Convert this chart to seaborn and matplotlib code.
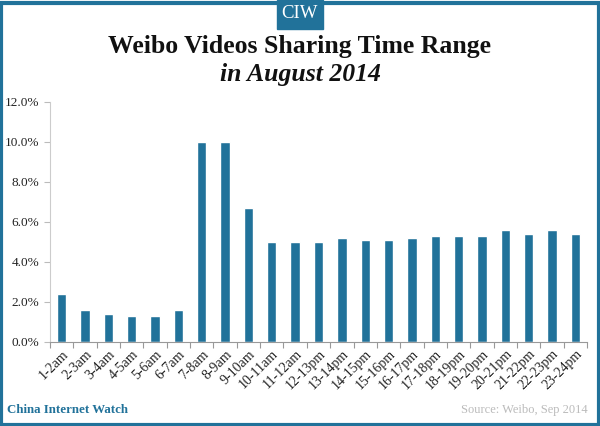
import matplotlib
matplotlib.use("Agg")
import matplotlib.pyplot as plt
import seaborn as sns
import pandas as pd
from matplotlib.patches import Rectangle
from matplotlib.ticker import FuncFormatter, FixedLocator

# hourly share of Weibo video sharing, Aug 2014 (%)
time_ranges = ['1-2am', '2-3am', '3-4am', '4-5am', '5-6am', '6-7am', '7-8am', '8-9am',
               '9-10am', '10-11am', '11-12am', '12-13pm', '13-14pm', '14-15pm', '15-16pm',
               '16-17pm', '17-18pm', '18-19pm', '19-20pm', '20-21pm', '21-22pm', '22-23pm',
               '23-24pm']
share = [2.4, 1.6, 1.4, 1.3, 1.3, 1.6, 10.0, 10.0, 6.7, 5.0, 5.0, 5.0, 5.2, 5.1, 5.1,
         5.2, 5.3, 5.3, 5.3, 5.6, 5.4, 5.6, 5.4]

blue = '#21729a'
serif = ['Liberation Serif', 'DejaVu Serif']

sns.set_style('white')
plt.rcParams['font.family'] = serif

df = pd.DataFrame({'time': time_ranges, 'share': share})

fig = plt.figure(figsize=(6, 4.26), dpi=100)
ax = fig.add_axes([50 / 600, 1 - 342 / 426, 537 / 600, 240 / 426])

sns.barplot(data=df, x='time', y='share', color=blue, width=0.4, saturation=1, ax=ax)

ax.set_ylim(0, 12)
ax.set_xlim(-0.5, len(time_ranges) - 0.5)
ax.set_yticks([0, 2, 4, 6, 8, 10, 12])
ax.yaxis.set_major_formatter(FuncFormatter(lambda v, p: f'{v:.1f}%'))
ax.set_xlabel('')
ax.set_ylabel('')

# tick marks between categories, labels centred under bars
ax.xaxis.set_minor_locator(FixedLocator([i - 0.5 for i in range(len(time_ranges) + 1)]))
ax.tick_params(axis='x', which='major', length=0, labelsize=10, pad=4)
ax.tick_params(axis='x', which='minor', length=4, width=0.8, color='#999999', direction='out', bottom=True)
ax.tick_params(axis='y', length=4, width=0.8, color='#bbbbbb', direction='out', left=True, labelsize=9.5)
plt.setp(ax.get_xticklabels(), rotation=45, ha='right', rotation_mode='anchor', color='#222222')
plt.setp(ax.get_yticklabels(), color='#222222')

for s in ['top', 'right']:
    ax.spines[s].set_visible(False)
ax.spines['left'].set_color('#cccccc')
ax.spines['bottom'].set_color('#999999')
ax.spines['left'].set_linewidth(0.8)
ax.spines['bottom'].set_linewidth(0.8)

# titles
fig.text(0.5, 1 - 47 / 426, 'Weibo Videos Sharing Time Range', ha='center', va='center',
         fontsize=18.5, fontweight='bold', color='#111111')
fig.text(0.5, 1 - 74 / 426, 'in August 2014', ha='center', va='center',
         fontsize=18.5, fontweight='bold', style='italic', color='#111111')

# logo box
fig.patches.append(Rectangle((277 / 600, 1 - 29 / 426), 46 / 600, 29 / 426,
                             transform=fig.transFigure, color=blue, zorder=5))
fig.text(0.5, 1 - 14 / 426, 'CIW', ha='center', va='center', fontsize=13.5, color='white', zorder=6)

# footer
fig.text(7 / 600, 1 - 410 / 426, 'China Internet Watch', ha='left', va='center',
         fontsize=9.3, fontweight='bold', color=blue)
fig.text(588 / 600, 1 - 410 / 426, 'Source: Weibo, Sep 2014', ha='right', va='center',
         fontsize=9, color='#bbbbbb')

# frame
fig.patches.append(Rectangle((0.002, 0.003), 0.996, 0.99, transform=fig.transFigure,
                             fill=False, edgecolor=blue, linewidth=3, zorder=4))

fig.savefig('out.png', dpi=100)
